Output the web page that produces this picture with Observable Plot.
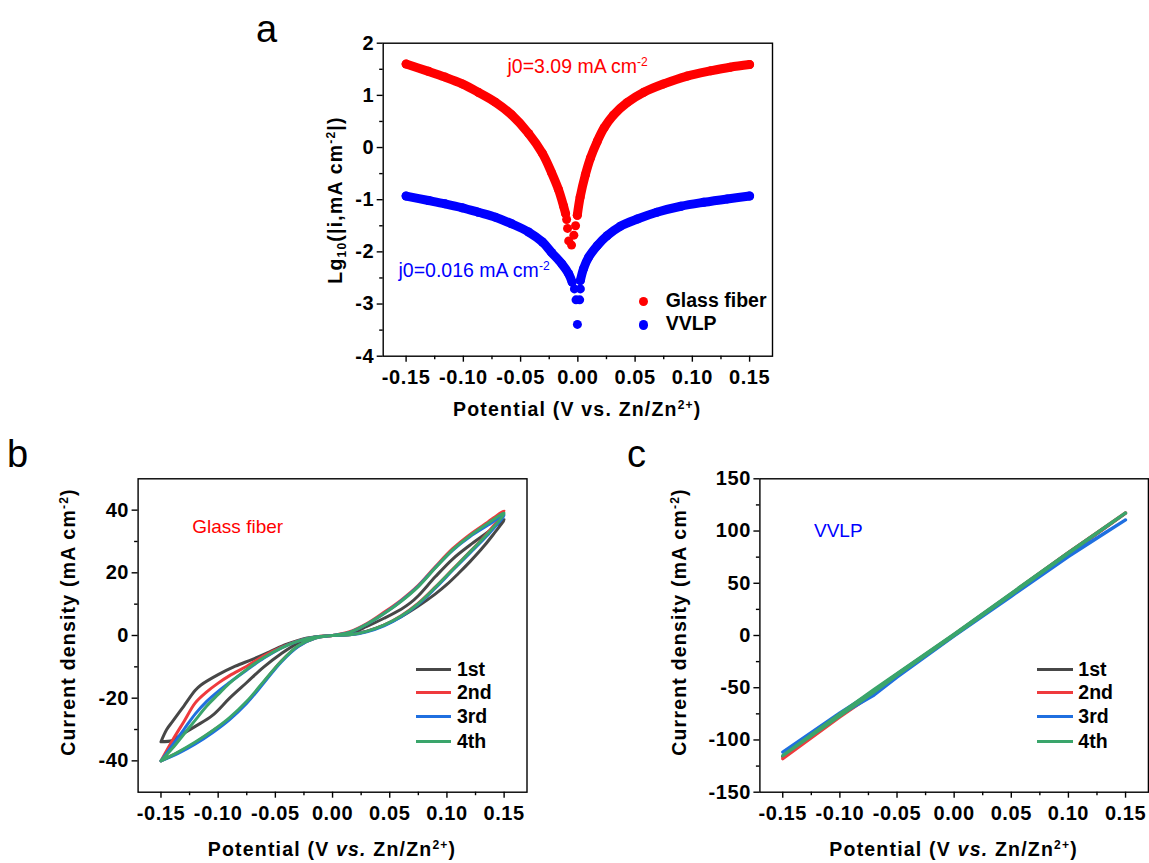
<!DOCTYPE html>
<html><head><meta charset="utf-8">
<script src="https://cdn.jsdelivr.net/npm/d3@7"></script>
<script src="https://cdn.jsdelivr.net/npm/@observablehq/plot@0.6"></script>
<style>
body{margin:0;background:#fff;}
#page{position:relative;width:1149px;height:863px;overflow:hidden;font-family:"Liberation Sans",Arial,sans-serif;background:#fff;}
.abs{position:absolute;white-space:nowrap;line-height:1;}
sup{font-size:0.62em;vertical-align:0.62em;line-height:0;}
sub{font-size:0.62em;vertical-align:-0.32em;line-height:0;}
</style></head><body><div id="page"></div>
<script>
// ---------- tick values ----------
const xTicks = [-0.15, -0.10, -0.05, 0, 0.05, 0.10, 0.15];
const xMinorTicks = [-0.125, -0.075, -0.025, 0.025, 0.075, 0.125];
const yTicksA = [-4, -3, -2, -1, 0, 1, 2];
const yMinorA = [-3.5, -2.5, -1.5, -0.5, 0.5, 1.5];
const yTicksB = [-40, -20, 0, 20, 40];
const yMinorB = [-30, -10, 10, 30];
const yTicksC = [-150, -100, -50, 0, 50, 100, 150];
const yMinorC = [-125, -75, -25, 25, 75, 125];

// ---------- panel a : Tafel ----------
const seriesA = ["Glass fiber", "VVLP"];
const glassV = [-0.150,-0.1305,-0.116,-0.101,-0.087,-0.072,-0.058,-0.043,-0.031,-0.023,-0.017,-0.0125,-0.0107,
  -0.0098,-0.009,-0.008,-0.0055,-0.0035,-0.002,
  -0.0005,0.002,0.0066,0.011,0.017,0.023,0.031,0.043,0.0576,0.075,0.0955,0.116,0.133,0.150];
const glassLg = [1.60,1.46,1.35,1.22,1.06,0.87,0.63,0.27,-0.11,-0.48,-0.80,-1.12,-1.27,
  -1.38,-1.55,-1.79,-1.87,-1.68,-1.50,
  -1.30,-0.95,-0.52,-0.20,0.12,0.38,0.62,0.86,1.06,1.22,1.37,1.47,1.54,1.59];
const glassBranch = ["L","L","L","L","L","L","L","L","L","L","L","L","L",
  "tip","tip","tip","tip","tip","tip",
  "R","R","R","R","R","R","R","R","R","R","R","R","R","R"];
const vvlpV = [-0.150,-0.1305,-0.116,-0.101,-0.087,-0.072,-0.058,-0.043,-0.031,-0.023,-0.014,-0.008,-0.005,
  -0.003,0.0022,-0.0016,0.0016,-0.0004,
  0.0022,0.005,0.0095,0.017,0.0256,0.037,0.052,0.069,0.090,0.110,0.1305,0.150];
const vvlpLg = [-0.93,-1.015,-1.08,-1.155,-1.24,-1.335,-1.46,-1.62,-1.81,-2.01,-2.23,-2.42,-2.58,
  -2.71,-2.71,-2.92,-2.92,-3.39,
  -2.55,-2.32,-2.10,-1.88,-1.69,-1.51,-1.37,-1.24,-1.125,-1.05,-0.985,-0.93];
const vvlpBranch = ["L","L","L","L","L","L","L","L","L","L","L","L","L",
  "tip","tip","tip","tip","tip",
  "R","R","R","R","R","R","R","R","R","R","R","R"];

// ---------- panel b : CV glass fiber ----------
const cycles = ["1st", "2nd", "3rd", "4th"];
const gfCycle1V = [-0.15,-0.145,-0.14,-0.13,-0.12,-0.115,-0.10,-0.085,-0.07,-0.055,-0.04,-0.025,-0.01,0,
  0.015,0.03,0.045,0.06,0.075,0.09,0.10,0.11,0.12,0.13,0.14,0.15,
  0.135,0.12,0.105,0.09,0.075,0.068,0.06,0.045,0.03,0.015,0,
  -0.015,-0.03,-0.045,-0.06,-0.075,-0.09,-0.105,-0.12,-0.135,-0.14,-0.15];
const gfCycle1I = [-33.9,-30,-27.5,-22.5,-17.5,-15.8,-12.5,-9.8,-7.6,-5.2,-2.8,-1,-0.2,0,
  0.3,1.4,3.3,6,9.4,13.3,16.3,19.8,23.5,27.5,32,37,
  32.8,28.8,24.4,18.8,12.7,10.4,8.4,5.5,2.9,0.6,0,
  -0.5,-2.4,-5.8,-10,-15,-20,-25.5,-29,-32.3,-33.5,-33.9];
const gfCycleV = [-0.15,-0.14,-0.13,-0.12,-0.11,-0.10,-0.09,-0.075,-0.06,-0.045,-0.03,-0.015,0,
  0.015,0.03,0.045,0.06,0.075,0.09,0.105,0.12,0.135,0.15,
  0.135,0.12,0.105,0.09,0.075,0.06,0.045,0.03,0.015,0,
  -0.015,-0.03,-0.045,-0.06,-0.075,-0.09,-0.105,-0.12,-0.135,-0.15];
const gfCycle2I = [-40,-33.5,-27.5,-21.5,-18,-15.2,-12.8,-9.8,-6.5,-3.8,-1.7,-0.5,0,
  0.2,1.3,3.3,6.3,10.3,15.5,21.1,26.7,32.5,39.7,
  36,32.2,27.7,22,16,11.3,7.4,3.8,1.2,0,
  -0.8,-3.4,-8.2,-14.8,-21.3,-26.5,-30.5,-34.2,-37.3,-40];
const gfCycle3I = [-40,-35,-30,-25,-21,-17.8,-15,-11,-7.2,-4,-1.8,-0.5,0,
  0.2,1.2,3.1,6,10,15.2,20.8,26.3,31.8,38.4,
  35,31.5,27.2,21.7,15.8,11,7,3.6,1,0,
  -0.8,-3.5,-8.5,-15.1,-21.6,-26.8,-31,-34.6,-37.6,-40];
const gfCycle4I = [-40,-36,-31.5,-27,-22.5,-18.8,-15.2,-10.8,-7,-4,-1.8,-0.5,0,
  0.2,1.3,3.3,6.2,10.2,15.4,21,26.6,32.2,39,
  35.6,31.8,27.3,21.6,15.6,10.9,7,3.6,1,0,
  -0.8,-3.3,-8.3,-14.6,-21,-26.2,-30.4,-34,-37.2,-40];

// ---------- panel c : CV VVLP ----------
const vvCycleV = [-0.15,-0.10,-0.07,-0.05,0,0.05,0.10,0.15,0.10,0.05,0,-0.05,-0.07,-0.10,-0.15];
const vvCycle1I = [-116,-77,-55,-38,0.5,39,78,117,79.5,40,1,-37,-52.5,-75.5,-116];
const vvCycle2I = [-118,-78,-55.5,-39,0,38.5,78,117.4,79.5,40,1,-37.5,-53,-76,-118];
const vvCycle3I = [-111.7,-76,-57,-40,-0.5,37.5,75.5,110.7,76.5,38.5,0.5,-37.5,-53,-74,-111.7];
const vvCycle4I = [-115,-77,-54,-38,0,39,78.5,117.4,79.5,40.5,1.5,-36.5,-51.5,-75,-115];

// ---------- styles ----------
const colorsA = {"Glass fiber": "#ff0000", "VVLP": "#0000ff"};
const cycleColors = {"1st": "#474747", "2nd": "#ef3a3d", "3rd": "#1f6fe0", "4th": "#3aa56b"};

const page = document.getElementById("page");
const fmt2 = d => d.toFixed(2);
const fmtInt = d => String(d);
const plotStyle = {fontFamily: "'Liberation Sans', Arial, sans-serif", fontSize: "20px", fontWeight: "bold",
  letterSpacing: "0.6px", color: "#000", background: "transparent", overflow: "visible"};

function axes(yTicks, yMinor) {
  return [
    Plot.axisX({ticks: xTicks, tickSize: 6, tickPadding: 8, tickFormat: fmt2, strokeWidth: 1.4, label: null}),
    Plot.axisX({ticks: xMinorTicks, tickSize: 3.5, tickFormat: () => "", strokeWidth: 1.4, label: null}),
    Plot.axisY({ticks: yTicks, tickSize: 6, tickPadding: 3, tickFormat: fmtInt, strokeWidth: 1.4, label: null}),
    Plot.axisY({ticks: yMinor, tickSize: 3.5, tickFormat: () => "", strokeWidth: 1.4, label: null}),
    Plot.frame({stroke: "#000", strokeWidth: 1.4})
  ];
}
function place(svg, left, top) {
  svg.style.position = "absolute";
  svg.style.left = left + "px";
  svg.style.top = top + "px";
  svg.style.maxWidth = "none";
  page.appendChild(svg);
}
function addText(html, o) {
  const d = document.createElement("div");
  d.className = "abs";
  d.innerHTML = html;
  const size = o.size || 19.5;
  d.style.fontSize = size + "px";
  d.style.fontWeight = o.bold === false ? "normal" : "bold";
  d.style.color = o.color || "#000";
  d.style.letterSpacing = (o.spacing || 0) + "px";
  d.style.left = o.x + "px";
  if (o.rotate) {
    d.style.top = o.y + "px";
    d.style.transform = "translate(-50%,-50%) rotate(-90deg)";
  } else {
    d.style.top = (o.y - 0.8465 * size) + "px";
    if (o.anchor === "middle") d.style.transform = "translateX(-50%)";
  }
  page.appendChild(d);
}

// ---------- panel a ----------
const rowsA = [];
glassV.forEach((v, i) => rowsA.push({series: seriesA[0], v, lg: glassLg[i], branch: glassBranch[i]}));
vvlpV.forEach((v, i) => rowsA.push({series: seriesA[1], v, lg: vvlpLg[i], branch: vvlpBranch[i]}));
const bandA = rowsA.filter(d => d.branch !== "tip");

const plotA = Plot.plot({
  width: 540, height: 440,
  marginLeft: 132.7, marginRight: 18, marginTop: 42.7, marginBottom: 84.3,
  style: plotStyle,
  x: {domain: [-0.17, 0.17]},
  y: {domain: [-4, 2]},
  color: {domain: seriesA, range: seriesA.map(s => colorsA[s])},
  marks: [
    Plot.line(bandA, {x: "v", y: "lg", z: d => d.series + d.branch, stroke: "series", strokeWidth: 9,
      curve: "catmull-rom", strokeLinecap: "round", strokeLinejoin: "round"}),
    Plot.dot(rowsA, {x: "v", y: "lg", r: 4.5, fill: "series", stroke: null}),
    ...axes(yTicksA, yMinorA)
  ]
});
place(plotA, 250, 0);

// ---------- panel b ----------
const rowsB = [];
[[gfCycle1V, gfCycle1I], [gfCycleV, gfCycle2I], [gfCycleV, gfCycle3I], [gfCycleV, gfCycle4I]].forEach(([V, I], k) => {
  V.forEach((v, i) => rowsB.push({cycle: cycles[k], v, j: I[i]}));
});
const plotB = Plot.plot({
  width: 560, height: 433,
  marginLeft: 137.6, marginRight: 33.5, marginTop: 48.3, marginBottom: 71.3,
  style: plotStyle,
  x: {domain: [-0.17, 0.17]},
  y: {domain: [-50, 50]},
  color: {domain: cycles, range: cycles.map(c => cycleColors[c])},
  marks: [
    Plot.line(rowsB, {x: "v", y: "j", z: "cycle", stroke: "cycle", strokeWidth: 3, curve: "catmull-rom", strokeLinejoin: "round"}),
    ...axes(yTicksB, yMinorB)
  ]
});
place(plotB, 0, 430);

// ---------- panel c ----------
const rowsC = [];
[vvCycle1I, vvCycle2I, vvCycle3I, vvCycle4I].forEach((I, k) => {
  vvCycleV.forEach((v, i) => rowsC.push({cycle: cycles[k], v, j: I[i]}));
});
const plotC = Plot.plot({
  width: 579, height: 433,
  marginLeft: 189.4, marginRight: 1.1, marginTop: 48.3, marginBottom: 71.3,
  style: plotStyle,
  x: {domain: [-0.17, 0.17]},
  y: {domain: [-150, 150]},
  color: {domain: cycles, range: cycles.map(c => cycleColors[c])},
  marks: [
    Plot.line(rowsC, {x: "v", y: "j", z: "cycle", stroke: "cycle", strokeWidth: 3.2, strokeLinejoin: "round"}),
    ...axes(yTicksC, yMinorC)
  ]
});
place(plotC, 570, 430);

// ---------- panel letters ----------
addText("a", {x: 256, y: 42, size: 38, bold: false});
addText("b", {x: 7, y: 467, size: 38, bold: false});
addText("c", {x: 627, y: 467, size: 38, bold: false});

// ---------- axis titles ----------
addText("Potential (V vs. Zn/Zn<sup>2+</sup>)", {x: 577.3, y: 417, anchor: "middle", spacing: 1.2});
addText("Lg<sub>10</sub>(|i,mA cm<sup>-2</sup>|)", {x: 335.5, y: 199.5, rotate: true, spacing: 1.2});
addText("Potential (V <i>vs.</i> Zn/Zn<sup>2+</sup>)", {x: 332, y: 857, anchor: "middle", spacing: 1.2});
addText("Current density (mA cm<sup>-2</sup>)", {x: 69, y: 621.7, rotate: true, spacing: 1.2});
addText("Potential (V <i>vs.</i> Zn/Zn<sup>2+</sup>)", {x: 953.6, y: 857, anchor: "middle", spacing: 1.2});
addText("Current density (mA cm<sup>-2</sup>)", {x: 680, y: 621.7, rotate: true, spacing: 1.2});

// ---------- annotations ----------
addText("j0=3.09 mA cm<sup>-2</sup>", {x: 507.5, y: 74, size: 19.5, bold: false, color: colorsA["Glass fiber"]});
addText("j0=0.016 mA cm<sup>-2</sup>", {x: 398.5, y: 277.8, size: 19.5, bold: false, color: colorsA["VVLP"]});
addText("Glass fiber", {x: 192.3, y: 533.3, size: 19, bold: false, color: colorsA["Glass fiber"]});
addText("VVLP", {x: 814, y: 537.3, size: 19, bold: false, color: colorsA["VVLP"]});

// ---------- legends ----------
seriesA.forEach((s, i) => {
  const cy = [301.7, 325][i];
  const dot = document.createElement("div");
  dot.style.cssText = `position:absolute;left:${643.3 - 4.6}px;top:${cy - 4.6}px;width:9.2px;height:9.2px;border-radius:50%;background:${colorsA[s]};`;
  page.appendChild(dot);
  addText(s, {x: 665.7, y: cy + 5.5, size: 19.5});
});
function cycleLegend(x0, x1, xt) {
  cycles.forEach((c, i) => {
    const cy = [669.3, 692.3, 716.7, 741.7][i];
    const ln = document.createElement("div");
    ln.style.cssText = `position:absolute;left:${x0}px;top:${cy - 1.7}px;width:${x1 - x0}px;height:3.4px;background:${cycleColors[c]};`;
    page.appendChild(ln);
    addText(c, {x: xt, y: cy + 6.8, size: 19.5});
  });
}
cycleLegend(416.2, 450.6, 456.9);
cycleLegend(1037.3, 1072.7, 1078.3);
</script></body></html>
